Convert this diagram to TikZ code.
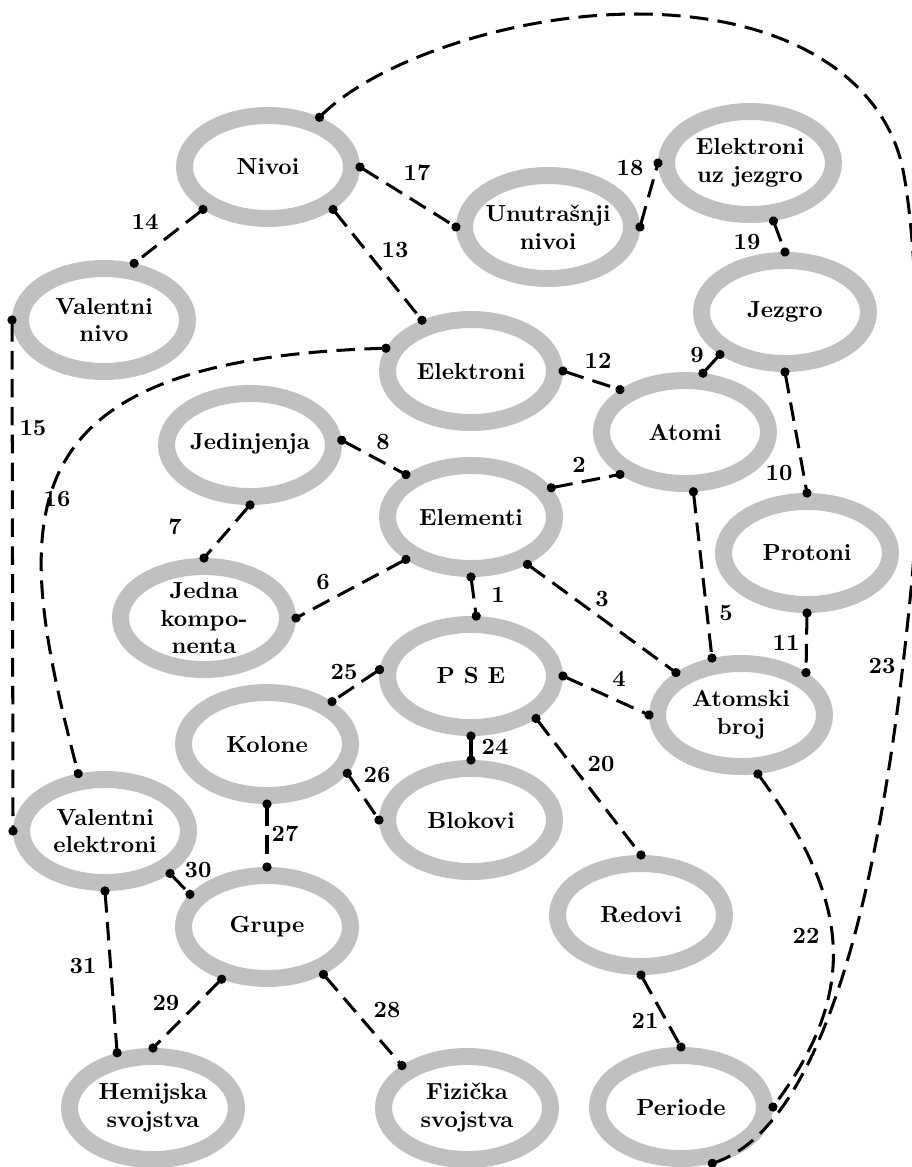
\documentclass[tikz,border=0pt]{standalone}
\usepackage{fontspec}
\usetikzlibrary{shapes.geometric,arrows.meta}
\definecolor{ringgray}{RGB}{192,192,192}
\begin{document}
\begin{tikzpicture}[x=0.43pt,y=-0.43pt,
  concept/.style={ellipse, draw=ringgray, line width=7.3pt, minimum width=71.8pt,
    minimum height=44.3pt, inner xsep=-5pt, inner ysep=-2pt, align=center, font=\bfseries},
  lbl/.style={font=\bfseries, inner sep=0pt},
  link/.style={line width=1.3pt, dash pattern=on 8pt off 4pt,
    {Circle[length=3.9pt]}-{Circle[length=3.9pt]},
    shorten <=-1.95pt, shorten >=-1.95pt}]
\useasboundingbox (0,0) rectangle (912,1167);

% concepts
\node[concept] (nivoi) at (268,167) {Nivoi};
\node[concept] (unut) at (548,227) {Unutrašnji\\nivoi};
\node[concept] (euj) at (750,163) {Elektroni\\uz jezgro};
\node[concept] (jezgro) at (785,312) {Jezgro};
\node[concept] (vnivo) at (104,320) {Valentni\\nivo};
\node[concept] (elektroni) at (471,371) {Elektroni};
\node[concept] (atomi) at (685,432) {Atomi};
\node[concept] (jedinj) at (250,445) {\raisebox{3pt}{Jedinjenja}};
\node[concept] (elementi) at (471,517) {Elementi};
\node[concept] (protoni) at (807,553) {Protoni};
\node[concept] (jedna) at (204,618) {Jedna\\kompo-\\nenta};
\node[concept] (pse) at (471,676) {P S E};
\node[concept] (atomski) at (741,715) {Atomski\\broj};
\node[concept] (kolone) at (267,744) {Kolone};
\node[concept] (blokovi) at (471,820) {Blokovi};
\node[concept] (velek) at (105,831) {Valentni\\elektroni};
\node[concept] (grupe) at (267,927) {Grupe};
\node[concept] (redovi) at (641,915) {Redovi};
\node[concept] (hemijska) at (153,1108) {Hemijska\\svojstva};
\node[concept] (fizicka) at (467,1108) {Fizička\\svojstva};
\node[concept] (periode) at (681,1107) {Periode};

% connectors
\draw[link] (elementi.south) -- (pse.85);
\draw[link] (elementi.20) -- (atomi.south west);
\draw[link] (elementi.-40) -- (atomski.north west);
\draw[link] (pse.east) -- (atomski.west);
\draw[link] (atomi.-82) -- (atomski.117);
\draw[link] (elementi.south west) -- (jedna.east);
\draw[link] (jedinj.south) -- (jedna.north);
\draw[link] (jedinj.3) -- (elementi.north west);
\draw[link] (jezgro.south west) -- (atomi.73);
\draw[link] (jezgro.south) -- (protoni.north);
\draw[link] (protoni.south) -- (atomski.north east);
\draw[link] (elektroni.east) -- (atomi.north west);
\draw[link] (nivoi.south east) -- (elektroni.134);
\draw[link] (nivoi.south west) -- (vnivo.62);
\draw[link] (vnivo.west) -- (velek.west);
\draw[link] (elektroni.165) .. controls (-5,360) and (12,520) .. (velek.115);
\draw[link] (nivoi.east) -- (unut.west);
\draw[link] (unut.east) -- (euj.west);
\draw[link] (euj.-68) -- (jezgro.north);
\draw[link] (pse.south east) -- (redovi.north);
\draw[link] (redovi.south) -- (periode.north);
\draw[link] (atomski.-74) .. controls (850,900) and (860,990) .. (periode.east);
\draw[link] (nivoi.44) .. controls (375,62) and (510,14) .. (636,14)
  .. controls (790,14) and (885,80) .. (903,170)
  .. controls (920,255) and (923,470) .. (911,590)
  .. controls (896,740) and (855,1115) .. (periode.-61);
\draw[link] (pse.south) -- (blokovi.north);
\draw[link] (pse.176) -- (kolone.north east);
\draw[link] (kolone.-20) -- (blokovi.west);
\draw[link] (kolone.south) -- (grupe.north);
\draw[link] (grupe.-40) -- (fizicka.north west);
\draw[link] (grupe.-131) -- (hemijska.north);
\draw[link] (velek.south east) -- (grupe.157);
\draw[link] (velek.south) -- (hemijska.123);

% labels
\node[lbl] (n1) at (498,595) {1};
\node[lbl] (n2) at (579,465) {2};
\node[lbl] (n3) at (602,599) {3};
\node[lbl] (n4) at (619,679) {4};
\node[lbl] (n5) at (726,613) {5};
\node[lbl] (n6) at (323,582) {6};
\node[lbl] (n7) at (175,527) {7};
\node[lbl] (n8) at (383,442) {8};
\node[lbl] (n9) at (697,355) {9};
\node[lbl] (n10) at (779,473) {10};
\node[lbl] (n11) at (786,643) {11};
\node[lbl] (n12) at (598,361) {12};
\node[lbl] (n13) at (395,250) {13};
\node[lbl] (n14) at (145,222) {14};
\node[lbl] (n15) at (33,428) {15};
\node[lbl] (n16) at (57,499) {16};
\node[lbl] (n17) at (417,173) {17};
\node[lbl] (n18) at (630,168) {18};
\node[lbl] (n19) at (747,242) {19};
\node[lbl] (n20) at (601,764) {20};
\node[lbl] (n21) at (645,1021) {21};
\node[lbl] (n22) at (806,936) {22};
\node[lbl] (n23) at (882,666) {23};
\node[lbl] (n24) at (495,747) {24};
\node[lbl] (n25) at (344,672) {25};
\node[lbl] (n26) at (377,775) {26};
\node[lbl] (n27) at (285,834) {27};
\node[lbl] (n28) at (387,1010) {28};
\node[lbl] (n29) at (166,1003) {29};
\node[lbl] (n30) at (198,870) {30};
\node[lbl] (n31) at (83,966) {31};
\end{tikzpicture}
\end{document}
